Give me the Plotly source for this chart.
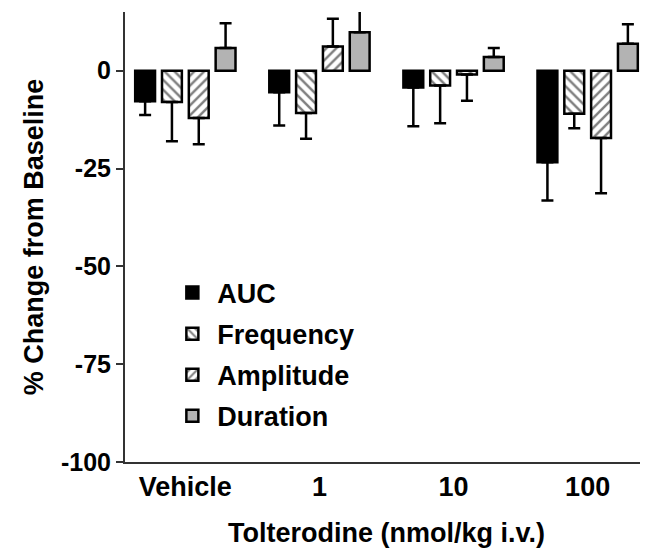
import plotly.graph_objects as go

categories = ["Vehicle", "1", "10", "100"]
series_names = ["AUC", "Frequency", "Amplitude", "Duration"]

auc = [-7.8, -5.5, -4.3, -23.4]
auc_err = [3.5, 8.5, 9.9, 9.8]
freq = [-8.0, -10.8, -3.8, -11.0]
freq_err = [10.0, 6.6, 9.6, 3.7]
amp = [-12.1, 6.2, -1.0, -17.2]
amp_err = [6.7, 7.1, 6.7, 14.1]
dur = [5.8, 9.8, 3.5, 6.9]
dur_err = [6.3, 6.0, 2.3, 5.0]

y_tickvals = [0, -25, -50, -75, -100]
y_ticktext = ["0", "-25", "-50", "-75", "-100"]

values = [auc, freq, amp, dur]
errors = [auc_err, freq_err, amp_err, dur_err]
fills = ["black", "white", "white", "#b3b3b3"]
patterns = ["", "\\", "/", ""]

FONT = "Liberation Sans, Arial, Helvetica, sans-serif"
FS = 27

fig = go.Figure()
for name, v, e, fc, pat in zip(series_names, values, errors, fills, patterns):
    up = [err if val > 0 else 0 for val, err in zip(v, e)]
    down = [err if val <= 0 else 0 for val, err in zip(v, e)]
    fig.add_trace(go.Bar(
        name=name, x=categories, y=v, legendgroup=name,
        marker=dict(color=fc, line=dict(color="black", width=2.5),
                    pattern=dict(shape=pat, fgcolor="black", bgcolor="white",
                                 size=7, solidity=0.35)),
        error_y=dict(type="data", symmetric=False, array=up, arrayminus=down,
                     color="black", thickness=2.5, width=6),
    ))

fig.update_layout(
    width=640, height=542,
    margin=dict(l=117, r=0, t=4, b=88),
    paper_bgcolor="white", plot_bgcolor="white",
    barmode="group", bargap=0.2, bargroupgap=0.26,
    font=dict(family=FONT, size=FS, color="black"),
    showlegend=True,
    legend=dict(x=0.081, y=0.43, xanchor="left", yanchor="top",
                font=dict(size=FS, family=FONT, weight="bold"),
                traceorder="grouped", tracegroupgap=3, bgcolor="rgba(0,0,0,0)",
                itemwidth=40),
    xaxis=dict(range=[-0.45, 3.45], showline=True, linecolor="#333", linewidth=2,
               ticks="", tickfont=dict(size=FS, weight="bold"),
               title=dict(text="<b>Tolterodine (nmol/kg i.v.)</b>", font=dict(size=FS), standoff=22),
               zeroline=False, showgrid=False),
    yaxis=dict(range=[-100, 15], showline=True, linecolor="#333", linewidth=2,
               tickvals=y_tickvals, ticktext=y_ticktext, ticks="outside", ticklen=7,
               tickwidth=2, tickcolor="#333", tickfont=dict(size=25, weight="bold"),
               title=dict(text="<b>% Change from Baseline</b>", font=dict(size=FS), standoff=10),
               zeroline=False, showgrid=False),
)

fig.write_html("out.html")
